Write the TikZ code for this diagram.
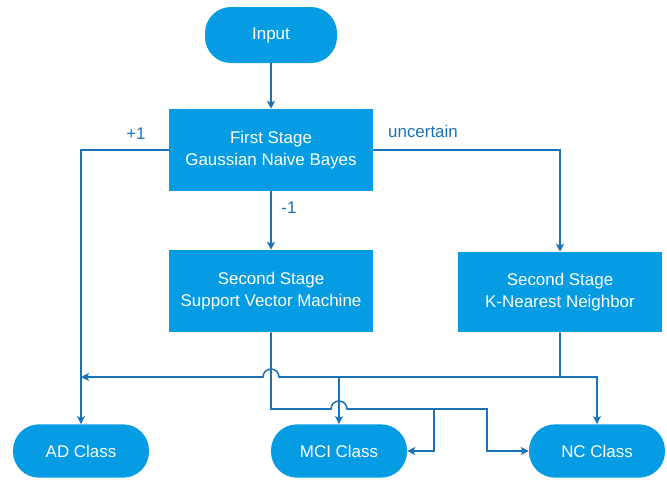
\documentclass[tikz,border=0pt]{standalone}
\usepackage{fontspec}
\setmainfont{Liberation Sans}
\usetikzlibrary{arrows.meta}
\definecolor{boxblue}{RGB}{5,156,228}
\definecolor{lineblue}{RGB}{26,114,184}

\begin{document}
\begin{tikzpicture}[x=0.75pt,y=-0.75pt,
  stagebox/.style={fill=boxblue,text=white,align=center,inner sep=0pt,
    minimum width=153pt,minimum height=61.5pt,font=\fontsize{12.7}{16.5}\selectfont},
  pill/.style={fill=boxblue,text=white,inner sep=0pt,rounded corners=19.5pt,
    minimum width=102pt,minimum height=40pt,font=\fontsize{12.7}{16.5}\selectfont},
  link/.style={draw=lineblue,line width=1.15pt},
  tip/.style={-{Stealth[length=6pt,width=6pt,inset=1.5pt]}},
  lbl/.style={text=lineblue,font=\fontsize{12.7}{16.5}\selectfont}]
\useasboundingbox (0,0) rectangle (667,479);

% nodes
\node[pill,minimum width=99pt,minimum height=42pt] (input) at (271,35) {Input};
\node[stagebox] (first) at (271,150) {First Stage\\Gaussian Naive Bayes};
\node[stagebox] (svm) at (271,291) {Second Stage\\Support Vector Machine};
\node[stagebox,minimum height=60pt] (knn) at (560,292) {Second Stage\\K-Nearest Neighbor};
\node[pill] (ad) at (81,451) {AD Class};
\node[pill] (mci) at (339,451) {MCI Class};
\node[pill] (nc) at (597,451) {NC Class};

% labels
\node[lbl] (plus) at (136,134) {+1};
\node[lbl] (unc) at (423,131) {uncertain};
\node[lbl] (minus) at (289,208) {-1};

% first stage
\draw[link,tip] (input) -- (first);
\draw[link,tip] (first.west) -| (ad.north);
\draw[link,tip] (first.east) -| (knn.north);
\draw[link,tip] (first) -- (svm);

% knn outputs
\coordinate (kj) at (560,377);
\coordinate (adj) at (81,377);
\coordinate (mj) at (339,377);
\draw[link,tip] (knn.south) -- (kj) -- (279,377)
  arc[start angle=0,end angle=180,radius=6pt] -- (adj);
\draw[link,tip] (kj) -| (nc.north);
\draw[link,tip] (mj) -- (mci.north);

% svm outputs
\coordinate (nj) at (487,409);
\coordinate (sm) at (434,409);
\draw[link,tip] (svm.south) |- (331,409)
  arc[start angle=180,end angle=0,radius=6pt] -- (nj) |- (nc.west);
\draw[link,tip] (sm) |- (mci.east);
\end{tikzpicture}
\end{document}
